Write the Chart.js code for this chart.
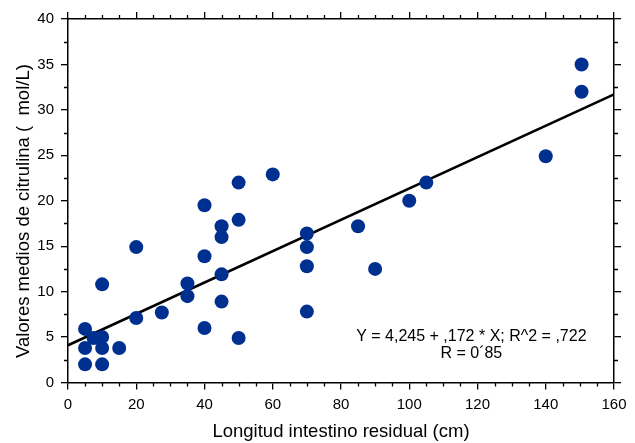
<!DOCTYPE html>
<html>
<head>
<meta charset="utf-8">
<script src="https://cdn.jsdelivr.net/npm/chart.js@4/dist/chart.umd.min.js"></script>
<style>
  html, body { margin: 0; padding: 0; background: #fff; }
  #wrap { width: 635px; height: 443px; }
</style>
</head>
<body>
<div id="wrap"><canvas id="citrulinaChart"></canvas></div>
<script>
// data
const longitudCm = [5, 5, 5, 7.5, 10, 10, 10, 10, 15, 20, 20, 27.5, 35, 35, 40, 40, 40, 45, 45, 45, 45, 50, 50, 50, 60, 70, 70, 70, 70, 85, 90, 100, 105, 140, 150.5, 150.5];
const citrulina = [5.9, 3.8, 2.0, 4.9, 5.0, 3.8, 2.0, 10.8, 3.8, 7.1, 14.9, 7.7, 10.9, 9.5, 19.5, 13.9, 6.0, 17.2, 16.0, 11.9, 8.9, 22.0, 17.9, 4.9, 22.9, 16.4, 14.9, 12.8, 7.8, 17.2, 12.5, 20.0, 22.0, 24.9, 35.0, 32.0];

// regression line end points
const fitX = [0, 160];
const fitY = [4.1, 31.7];

const noteLines = ["Y = 4,245 + ,172 * X; R^2 = ,722", "R = 0´85"];

const xTitle = "Longitud intestino residual (cm)";
const yTitle = "Valores medios de citrulina (  mol/L)";

const FONT = "'Liberation Sans', Arial, Helvetica, sans-serif";

// minor ticks on all four sides + the regression note
const extrasPlugin = {
    id: 'extras',
    afterDraw(chart) {
        const { ctx, chartArea: a, scales: { x, y } } = chart;
        ctx.save();
        ctx.strokeStyle = '#000';
        ctx.lineWidth = 1.3;
        ctx.beginPath();
        for (let v = 5; v < 160; v += 5) {
            if (v % 20 === 0) continue;
            const px = Math.round(x.getPixelForValue(v)) + 0.5;
            ctx.moveTo(px, a.bottom); ctx.lineTo(px, a.bottom + 4);
            ctx.moveTo(px, a.top); ctx.lineTo(px, a.top - 4);
        }
        for (let v = 2.5; v < 40; v += 5) {
            const py = Math.round(y.getPixelForValue(v)) + 0.5;
            ctx.moveTo(a.left, py); ctx.lineTo(a.left - 4, py);
            ctx.moveTo(a.right, py); ctx.lineTo(a.right + 4, py);
        }
        ctx.stroke();

        // note text, anchored in data units
        ctx.fillStyle = '#000';
        ctx.font = "16px " + FONT;
        ctx.textAlign = 'center';
        ctx.textBaseline = 'middle';
        ctx.fillText(noteLines[0], x.getPixelForValue(118.2), y.getPixelForValue(5.1));
        ctx.fillText(noteLines[1], x.getPixelForValue(118.2), y.getPixelForValue(3.2));
        ctx.restore();
    }
};

const majorGrid = {
    display: true,
    drawOnChartArea: false,
    drawTicks: true,
    tickLength: 7,
    color: '#000',
    lineWidth: 1.3
};
const axisBorder = { display: true, color: '#000', width: 1.5 };

new Chart(document.getElementById('citrulinaChart'), {
    type: 'scatter',
    data: {
        datasets: [
            {
                label: 'citrulina',
                data: longitudCm.map((v, i) => ({ x: v, y: citrulina[i] })),
                backgroundColor: '#00308f',
                borderWidth: 0,
                pointRadius: 7,
                order: 1
            },
            {
                type: 'line',
                label: 'ajuste',
                data: fitX.map((v, i) => ({ x: v, y: fitY[i] })),
                borderColor: '#000',
                borderWidth: 2.5,
                pointRadius: 0,
                fill: false,
                order: 2
            }
        ]
    },
    options: {
        responsive: true,
        maintainAspectRatio: false,
        animation: false,
        layout: { padding: 0, autoPadding: false },
        plugins: {
            legend: { display: false },
            tooltip: { enabled: false }
        },
        scales: {
            x: {
                type: 'linear',
                position: 'bottom',
                min: 0, max: 160,
                ticks: { stepSize: 20, color: '#000', font: { size: 15, family: FONT }, padding: 6, maxRotation: 0 },
                grid: majorGrid,
                border: axisBorder,
                title: { display: true, text: xTitle, color: '#000', font: { size: 18.5, family: FONT }, padding: { top: 0, bottom: 0 } },
                afterFit(scale) { scale.height = 60.5; }
            },
            x2: {
                type: 'linear',
                position: 'top',
                min: 0, max: 160,
                ticks: { stepSize: 20, display: false },
                grid: majorGrid,
                border: axisBorder,
                afterFit(scale) { scale.height = 19; }
            },
            y: {
                type: 'linear',
                position: 'left',
                min: 0, max: 40,
                ticks: { stepSize: 5, color: '#000', font: { size: 15, family: FONT }, padding: 7 },
                grid: majorGrid,
                border: axisBorder,
                // trailing spaces nudge the title up like the original
                title: { display: true, text: yTitle + '    ', color: '#000', font: { size: 18.5, family: FONT }, padding: { top: 13, bottom: 0 } },
                afterFit(scale) { scale.width = 68; }
            },
            y2: {
                type: 'linear',
                position: 'right',
                min: 0, max: 40,
                ticks: { stepSize: 5, display: false },
                grid: majorGrid,
                border: axisBorder,
                afterFit(scale) { scale.width = 21; }
            }
        }
    },
    plugins: [extrasPlugin]
});
</script>
</body>
</html>
